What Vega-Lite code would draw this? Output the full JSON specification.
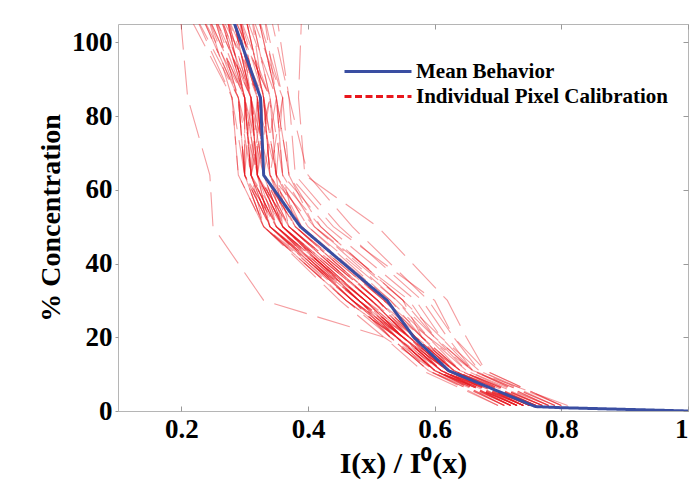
{
"$schema": "https://vega.github.io/schema/vega-lite/v6.json",
"width": 570, "height": 387,
"autosize": {"type": "none"},
"padding": {"left": 118, "top": 24, "right": 5, "bottom": 77},
"background": "white",
"config": {"view": {"stroke": "#b5b5b5", "strokeWidth": 1}, "font": "Liberation Serif"},
"datasets": {
"cal": [
{"id":1,"c":1.5,"v":0.74},{"id":1,"c":11,"v":0.61},{"id":1,"c":20,"v":0.55},{"id":1,"c":30,"v":0.49},{"id":1,"c":50,"v":0.35},{"id":1,"c":64,"v":0.31},{"id":1,"c":85,"v":0.30},{"id":1,"c":108,"v":0.26},
{"id":2,"c":1.5,"v":0.75},{"id":2,"c":11,"v":0.62},{"id":2,"c":20,"v":0.56},{"id":2,"c":30,"v":0.50},{"id":2,"c":50,"v":0.36},{"id":2,"c":64,"v":0.32},{"id":2,"c":85,"v":0.31},{"id":2,"c":108,"v":0.27},
{"id":3,"c":1.5,"v":0.73},{"id":3,"c":11,"v":0.60},{"id":3,"c":20,"v":0.54},{"id":3,"c":30,"v":0.48},{"id":3,"c":50,"v":0.34},{"id":3,"c":64,"v":0.30},{"id":3,"c":85,"v":0.29},{"id":3,"c":108,"v":0.25},
{"id":4,"c":1.5,"v":0.76},{"id":4,"c":11,"v":0.63},{"id":4,"c":20,"v":0.57},{"id":4,"c":30,"v":0.51},{"id":4,"c":50,"v":0.37},{"id":4,"c":64,"v":0.33},{"id":4,"c":85,"v":0.32},{"id":4,"c":108,"v":0.28},
{"id":5,"c":1.5,"v":0.72},{"id":5,"c":11,"v":0.59},{"id":5,"c":20,"v":0.53},{"id":5,"c":30,"v":0.47},{"id":5,"c":50,"v":0.33},{"id":5,"c":64,"v":0.30},{"id":5,"c":85,"v":0.30},{"id":5,"c":108,"v":0.24},
{"id":6,"c":1.5,"v":0.77},{"id":6,"c":11,"v":0.64},{"id":6,"c":20,"v":0.58},{"id":6,"c":30,"v":0.52},{"id":6,"c":50,"v":0.38},{"id":6,"c":64,"v":0.33},{"id":6,"c":85,"v":0.32},{"id":6,"c":108,"v":0.29},
{"id":7,"c":1.5,"v":0.71},{"id":7,"c":11,"v":0.60},{"id":7,"c":20,"v":0.54},{"id":7,"c":30,"v":0.46},{"id":7,"c":50,"v":0.34},{"id":7,"c":64,"v":0.31},{"id":7,"c":85,"v":0.29},{"id":7,"c":108,"v":0.23},
{"id":8,"c":1.5,"v":0.74},{"id":8,"c":11,"v":0.62},{"id":8,"c":20,"v":0.55},{"id":8,"c":30,"v":0.48},{"id":8,"c":50,"v":0.36},{"id":8,"c":64,"v":0.32},{"id":8,"c":85,"v":0.31},{"id":8,"c":108,"v":0.28},
{"id":9,"c":1.5,"v":0.78},{"id":9,"c":11,"v":0.65},{"id":9,"c":20,"v":0.59},{"id":9,"c":30,"v":0.53},{"id":9,"c":50,"v":0.39},{"id":9,"c":64,"v":0.34},{"id":9,"c":85,"v":0.33},{"id":9,"c":108,"v":0.30},
{"id":10,"c":1.5,"v":0.73},{"id":10,"c":11,"v":0.61},{"id":10,"c":20,"v":0.56},{"id":10,"c":30,"v":0.49},{"id":10,"c":50,"v":0.35},{"id":10,"c":64,"v":0.31},{"id":10,"c":85,"v":0.30},{"id":10,"c":108,"v":0.27},
{"id":11,"c":1.5,"v":0.75},{"id":11,"c":11,"v":0.63},{"id":11,"c":20,"v":0.57},{"id":11,"c":30,"v":0.50},{"id":11,"c":50,"v":0.37},{"id":11,"c":64,"v":0.32},{"id":11,"c":85,"v":0.32},{"id":11,"c":108,"v":0.29},
{"id":12,"c":1.5,"v":0.70},{"id":12,"c":11,"v":0.58},{"id":12,"c":20,"v":0.52},{"id":12,"c":30,"v":0.45},{"id":12,"c":50,"v":0.33},{"id":12,"c":64,"v":0.29},{"id":12,"c":85,"v":0.28},{"id":12,"c":108,"v":0.22},
{"id":13,"c":1.5,"v":0.76},{"id":13,"c":11,"v":0.62},{"id":13,"c":20,"v":0.55},{"id":13,"c":30,"v":0.47},{"id":13,"c":50,"v":0.35},{"id":13,"c":64,"v":0.32},{"id":13,"c":85,"v":0.31},{"id":13,"c":108,"v":0.26},
{"id":14,"c":1.5,"v":0.74},{"id":14,"c":11,"v":0.60},{"id":14,"c":20,"v":0.54},{"id":14,"c":30,"v":0.48},{"id":14,"c":50,"v":0.36},{"id":14,"c":64,"v":0.33},{"id":14,"c":85,"v":0.32},{"id":14,"c":108,"v":0.28},
{"id":15,"c":1.5,"v":0.72},{"id":15,"c":11,"v":0.61},{"id":15,"c":20,"v":0.55},{"id":15,"c":30,"v":0.49},{"id":15,"c":50,"v":0.34},{"id":15,"c":64,"v":0.30},{"id":15,"c":85,"v":0.30},{"id":15,"c":108,"v":0.25},
{"id":16,"c":1.5,"v":0.79},{"id":16,"c":11,"v":0.66},{"id":16,"c":20,"v":0.60},{"id":16,"c":30,"v":0.54},{"id":16,"c":50,"v":0.40},{"id":16,"c":64,"v":0.35},{"id":16,"c":85,"v":0.34},{"id":16,"c":108,"v":0.31},
{"id":17,"c":1.5,"v":0.75},{"id":17,"c":11,"v":0.61},{"id":17,"c":20,"v":0.54},{"id":17,"c":30,"v":0.47},{"id":17,"c":50,"v":0.34},{"id":17,"c":64,"v":0.31},{"id":17,"c":85,"v":0.30},{"id":17,"c":108,"v":0.27},
{"id":18,"c":1.5,"v":0.73},{"id":18,"c":11,"v":0.62},{"id":18,"c":20,"v":0.56},{"id":18,"c":30,"v":0.50},{"id":18,"c":50,"v":0.37},{"id":18,"c":64,"v":0.32},{"id":18,"c":85,"v":0.31},{"id":18,"c":108,"v":0.26},
{"id":19,"c":1.5,"v":0.77},{"id":19,"c":11,"v":0.63},{"id":19,"c":20,"v":0.56},{"id":19,"c":30,"v":0.49},{"id":19,"c":50,"v":0.36},{"id":19,"c":64,"v":0.32},{"id":19,"c":85,"v":0.31},{"id":19,"c":108,"v":0.28},
{"id":20,"c":1.5,"v":0.71},{"id":20,"c":11,"v":0.59},{"id":20,"c":20,"v":0.53},{"id":20,"c":30,"v":0.46},{"id":20,"c":50,"v":0.33},{"id":20,"c":64,"v":0.30},{"id":20,"c":85,"v":0.29},{"id":20,"c":108,"v":0.24},
{"id":21,"c":1.5,"v":0.80},{"id":21,"c":11,"v":0.67},{"id":21,"c":20,"v":0.61},{"id":21,"c":30,"v":0.55},{"id":21,"c":50,"v":0.41},{"id":21,"c":64,"v":0.36},{"id":21,"c":85,"v":0.35},{"id":21,"c":108,"v":0.32},
{"id":22,"c":1.5,"v":0.74},{"id":22,"c":11,"v":0.63},{"id":22,"c":20,"v":0.58},{"id":22,"c":30,"v":0.51},{"id":22,"c":50,"v":0.38},{"id":22,"c":64,"v":0.34},{"id":22,"c":85,"v":0.33},{"id":22,"c":108,"v":0.30},
{"id":23,"c":1.5,"v":0.72},{"id":23,"c":11,"v":0.60},{"id":23,"c":20,"v":0.53},{"id":23,"c":30,"v":0.47},{"id":23,"c":50,"v":0.35},{"id":23,"c":64,"v":0.31},{"id":23,"c":85,"v":0.30},{"id":23,"c":108,"v":0.23},
{"id":24,"c":1.5,"v":0.76},{"id":24,"c":11,"v":0.64},{"id":24,"c":20,"v":0.57},{"id":24,"c":30,"v":0.50},{"id":24,"c":50,"v":0.36},{"id":24,"c":64,"v":0.31},{"id":24,"c":85,"v":0.30},{"id":24,"c":108,"v":0.27},
{"id":25,"c":1.5,"v":0.73},{"id":25,"c":11,"v":0.61},{"id":25,"c":20,"v":0.55},{"id":25,"c":30,"v":0.48},{"id":25,"c":50,"v":0.34},{"id":25,"c":64,"v":0.30},{"id":25,"c":85,"v":0.29},{"id":25,"c":108,"v":0.25},
{"id":26,"c":1.5,"v":0.75},{"id":26,"c":11,"v":0.62},{"id":26,"c":20,"v":0.56},{"id":26,"c":30,"v":0.51},{"id":26,"c":50,"v":0.38},{"id":26,"c":64,"v":0.33},{"id":26,"c":85,"v":0.31},{"id":26,"c":108,"v":0.28},
{"id":27,"c":1.5,"v":0.81},{"id":27,"c":11,"v":0.66},{"id":27,"c":20,"v":0.59},{"id":27,"c":30,"v":0.52},{"id":27,"c":50,"v":0.39},{"id":27,"c":64,"v":0.35},{"id":27,"c":85,"v":0.34},{"id":27,"c":108,"v":0.31},
{"id":28,"c":1.5,"v":0.74},{"id":28,"c":11,"v":0.61},{"id":28,"c":20,"v":0.55},{"id":28,"c":30,"v":0.49},{"id":28,"c":50,"v":0.35},{"id":28,"c":64,"v":0.32},{"id":28,"c":85,"v":0.31},{"id":28,"c":108,"v":0.29},
{"id":29,"c":1.5,"v":0.70},{"id":29,"c":11,"v":0.59},{"id":29,"c":20,"v":0.54},{"id":29,"c":30,"v":0.48},{"id":29,"c":50,"v":0.36},{"id":29,"c":64,"v":0.32},{"id":29,"c":85,"v":0.30},{"id":29,"c":108,"v":0.26},
{"id":30,"c":1.5,"v":0.77},{"id":30,"c":11,"v":0.64},{"id":30,"c":20,"v":0.58},{"id":30,"c":30,"v":0.53},{"id":30,"c":50,"v":0.40},{"id":30,"c":64,"v":0.35},{"id":30,"c":85,"v":0.33},{"id":30,"c":108,"v":0.30},
{"id":31,"c":1.5,"v":0.73},{"id":31,"c":11,"v":0.60},{"id":31,"c":20,"v":0.54},{"id":31,"c":30,"v":0.47},{"id":31,"c":50,"v":0.34},{"id":31,"c":64,"v":0.31},{"id":31,"c":85,"v":0.31},{"id":31,"c":108,"v":0.27},
{"id":32,"c":1.5,"v":0.76},{"id":32,"c":11,"v":0.63},{"id":32,"c":20,"v":0.57},{"id":32,"c":30,"v":0.51},{"id":32,"c":50,"v":0.37},{"id":32,"c":64,"v":0.33},{"id":32,"c":85,"v":0.32},{"id":32,"c":108,"v":0.29},
{"id":33,"c":1.5,"v":0.78},{"id":33,"c":11,"v":0.64},{"id":33,"c":20,"v":0.58},{"id":33,"c":30,"v":0.55},{"id":33,"c":50,"v":0.42},{"id":33,"c":64,"v":0.37},{"id":33,"c":85,"v":0.35},{"id":33,"c":108,"v":0.33},
{"id":34,"c":1.5,"v":0.79},{"id":34,"c":11,"v":0.66},{"id":34,"c":20,"v":0.62},{"id":34,"c":30,"v":0.58},{"id":34,"c":50,"v":0.45},{"id":34,"c":64,"v":0.38},{"id":34,"c":85,"v":0.37},{"id":34,"c":108,"v":0.34},
{"id":35,"c":1.5,"v":0.80},{"id":35,"c":11,"v":0.68},{"id":35,"c":20,"v":0.63},{"id":35,"c":30,"v":0.59},{"id":35,"c":50,"v":0.47},{"id":35,"c":64,"v":0.40},{"id":35,"c":85,"v":0.37},{"id":35,"c":108,"v":0.35},
{"id":36,"c":1.5,"v":0.72},{"id":36,"c":11,"v":0.60},{"id":36,"c":20,"v":0.54},{"id":36,"c":30,"v":0.49},{"id":36,"c":50,"v":0.35},{"id":36,"c":64,"v":0.30},{"id":36,"c":85,"v":0.28},{"id":36,"c":108,"v":0.21},
{"id":37,"c":1.5,"v":0.74},{"id":37,"c":11,"v":0.62},{"id":37,"c":20,"v":0.56},{"id":37,"c":30,"v":0.48},{"id":37,"c":50,"v":0.33},{"id":37,"c":64,"v":0.29},{"id":37,"c":85,"v":0.28},{"id":37,"c":108,"v":0.24},
{"id":38,"c":1.5,"v":0.75},{"id":38,"c":11,"v":0.63},{"id":38,"c":20,"v":0.57},{"id":38,"c":30,"v":0.52},{"id":38,"c":50,"v":0.39},{"id":38,"c":64,"v":0.34},{"id":38,"c":85,"v":0.33},{"id":38,"c":108,"v":0.31},
{"id":39,"c":1.5,"v":0.72},{"id":39,"c":11,"v":0.60},{"id":39,"c":20,"v":0.52},{"id":39,"c":30,"v":0.33},{"id":39,"c":50,"v":0.25},{"id":39,"c":64,"v":0.245},{"id":39,"c":85,"v":0.21},{"id":39,"c":108,"v":0.198},
{"id":40,"c":1.5,"v":0.80},{"id":40,"c":11,"v":0.68},{"id":40,"c":20,"v":0.65},{"id":40,"c":30,"v":0.62},{"id":40,"c":50,"v":0.51},{"id":40,"c":64,"v":0.395},{"id":40,"c":85,"v":0.385},{"id":40,"c":108,"v":0.39},
{"id":41,"c":1.5,"v":0.79},{"id":41,"c":11,"v":0.67},{"id":41,"c":20,"v":0.63},{"id":41,"c":30,"v":0.60},{"id":41,"c":50,"v":0.44},{"id":41,"c":64,"v":0.37},{"id":41,"c":85,"v":0.36},{"id":41,"c":108,"v":0.32},
{"id":42,"c":1.5,"v":0.78},{"id":42,"c":11,"v":0.66},{"id":42,"c":20,"v":0.61},{"id":42,"c":30,"v":0.57},{"id":42,"c":50,"v":0.43},{"id":42,"c":64,"v":0.36},{"id":42,"c":85,"v":0.35},{"id":42,"c":108,"v":0.32},
{"id":43,"c":1.5,"v":0.77},{"id":43,"c":11,"v":0.65},{"id":43,"c":20,"v":0.60},{"id":43,"c":30,"v":0.56},{"id":43,"c":50,"v":0.41},{"id":43,"c":64,"v":0.34},{"id":43,"c":85,"v":0.33},{"id":43,"c":108,"v":0.29},
{"id":44,"c":1.5,"v":0.73},{"id":44,"c":11,"v":0.62},{"id":44,"c":20,"v":0.55},{"id":44,"c":30,"v":0.47},{"id":44,"c":50,"v":0.34},{"id":44,"c":64,"v":0.32},{"id":44,"c":85,"v":0.33},{"id":44,"c":108,"v":0.27},
{"id":45,"c":1.5,"v":0.75},{"id":45,"c":11,"v":0.61},{"id":45,"c":20,"v":0.55},{"id":45,"c":30,"v":0.49},{"id":45,"c":50,"v":0.36},{"id":45,"c":64,"v":0.34},{"id":45,"c":85,"v":0.31},{"id":45,"c":108,"v":0.25},
{"id":46,"c":1.5,"v":0.74},{"id":46,"c":11,"v":0.63},{"id":46,"c":20,"v":0.56},{"id":46,"c":30,"v":0.48},{"id":46,"c":50,"v":0.35},{"id":46,"c":64,"v":0.31},{"id":46,"c":85,"v":0.34},{"id":46,"c":108,"v":0.29},
{"id":47,"c":1.5,"v":0.76},{"id":47,"c":11,"v":0.62},{"id":47,"c":20,"v":0.56},{"id":47,"c":30,"v":0.50},{"id":47,"c":50,"v":0.37},{"id":47,"c":64,"v":0.35},{"id":47,"c":85,"v":0.33},{"id":47,"c":108,"v":0.26},
{"id":48,"c":1.5,"v":0.72},{"id":48,"c":11,"v":0.61},{"id":48,"c":20,"v":0.54},{"id":48,"c":30,"v":0.46},{"id":48,"c":50,"v":0.33},{"id":48,"c":64,"v":0.31},{"id":48,"c":85,"v":0.32},{"id":48,"c":108,"v":0.28},
{"id":49,"c":1.5,"v":0.75},{"id":49,"c":11,"v":0.63},{"id":49,"c":20,"v":0.57},{"id":49,"c":30,"v":0.49},{"id":49,"c":50,"v":0.36},{"id":49,"c":64,"v":0.33},{"id":49,"c":85,"v":0.35},{"id":49,"c":108,"v":0.30},
{"id":50,"c":1.5,"v":0.73},{"id":50,"c":11,"v":0.60},{"id":50,"c":20,"v":0.55},{"id":50,"c":30,"v":0.48},{"id":50,"c":50,"v":0.35},{"id":50,"c":64,"v":0.30},{"id":50,"c":85,"v":0.31},{"id":50,"c":108,"v":0.28},
{"id":51,"c":1.5,"v":0.77},{"id":51,"c":11,"v":0.64},{"id":51,"c":20,"v":0.57},{"id":51,"c":30,"v":0.51},{"id":51,"c":50,"v":0.38},{"id":51,"c":64,"v":0.36},{"id":51,"c":85,"v":0.34},{"id":51,"c":108,"v":0.28},
{"id":52,"c":1.5,"v":0.71},{"id":52,"c":11,"v":0.60},{"id":52,"c":20,"v":0.54},{"id":52,"c":30,"v":0.47},{"id":52,"c":50,"v":0.34},{"id":52,"c":64,"v":0.32},{"id":52,"c":85,"v":0.29},{"id":52,"c":108,"v":0.22},
{"id":53,"c":1.5,"v":0.74},{"id":53,"c":11,"v":0.62},{"id":53,"c":20,"v":0.56},{"id":53,"c":30,"v":0.50},{"id":53,"c":50,"v":0.37},{"id":53,"c":64,"v":0.34},{"id":53,"c":85,"v":0.36},{"id":53,"c":108,"v":0.31},
{"id":54,"c":1.5,"v":0.76},{"id":54,"c":11,"v":0.63},{"id":54,"c":20,"v":0.58},{"id":54,"c":30,"v":0.52},{"id":54,"c":50,"v":0.38},{"id":54,"c":64,"v":0.33},{"id":54,"c":85,"v":0.30},{"id":54,"c":108,"v":0.24},
{"id":55,"c":1.5,"v":0.72},{"id":55,"c":11,"v":0.61},{"id":55,"c":20,"v":0.55},{"id":55,"c":30,"v":0.49},{"id":55,"c":50,"v":0.36},{"id":55,"c":64,"v":0.35},{"id":55,"c":85,"v":0.32},{"id":55,"c":108,"v":0.27},
{"id":56,"c":1.5,"v":0.75},{"id":56,"c":11,"v":0.62},{"id":56,"c":20,"v":0.55},{"id":56,"c":30,"v":0.48},{"id":56,"c":50,"v":0.34},{"id":56,"c":64,"v":0.31},{"id":56,"c":85,"v":0.33},{"id":56,"c":108,"v":0.30},
{"id":57,"c":1.5,"v":0.78},{"id":57,"c":11,"v":0.66},{"id":57,"c":20,"v":0.60},{"id":57,"c":30,"v":0.55},{"id":57,"c":50,"v":0.42},{"id":57,"c":64,"v":0.35},{"id":57,"c":85,"v":0.36},{"id":57,"c":108,"v":0.33},
{"id":58,"c":1.5,"v":0.73},{"id":58,"c":11,"v":0.61},{"id":58,"c":20,"v":0.56},{"id":58,"c":30,"v":0.50},{"id":58,"c":50,"v":0.36},{"id":58,"c":64,"v":0.32},{"id":58,"c":85,"v":0.30},{"id":58,"c":108,"v":0.26},
{"id":59,"c":1.5,"v":0.74},{"id":59,"c":11,"v":0.61},{"id":59,"c":20,"v":0.55},{"id":59,"c":30,"v":0.47},{"id":59,"c":50,"v":0.35},{"id":59,"c":64,"v":0.33},{"id":59,"c":85,"v":0.32},{"id":59,"c":108,"v":0.29},
{"id":60,"c":1.5,"v":0.76},{"id":60,"c":11,"v":0.64},{"id":60,"c":20,"v":0.59},{"id":60,"c":30,"v":0.54},{"id":60,"c":50,"v":0.41},{"id":60,"c":64,"v":0.37},{"id":60,"c":85,"v":0.35},{"id":60,"c":108,"v":0.32},
{"id":61,"c":1.5,"v":0.71},{"id":61,"c":11,"v":0.59},{"id":61,"c":20,"v":0.53},{"id":61,"c":30,"v":0.48},{"id":61,"c":50,"v":0.36},{"id":61,"c":64,"v":0.33},{"id":61,"c":85,"v":0.31},{"id":61,"c":108,"v":0.25},
{"id":62,"c":1.5,"v":0.75},{"id":62,"c":11,"v":0.62},{"id":62,"c":20,"v":0.57},{"id":62,"c":30,"v":0.51},{"id":62,"c":50,"v":0.37},{"id":62,"c":64,"v":0.32},{"id":62,"c":85,"v":0.34},{"id":62,"c":108,"v":0.28},
{"id":63,"c":1.5,"v":0.73},{"id":63,"c":11,"v":0.60},{"id":63,"c":20,"v":0.54},{"id":63,"c":30,"v":0.46},{"id":63,"c":50,"v":0.33},{"id":63,"c":64,"v":0.30},{"id":63,"c":85,"v":0.29},{"id":63,"c":108,"v":0.23}
],
"mean": [
{"c":0,"v":1.0},{"c":0.9,"v":0.8},{"c":1.2,"v":0.759},{"c":10.9,"v":0.6225},{"c":20,"v":0.567},{"c":30,"v":0.525},{"c":50,"v":0.388},{"c":64,"v":0.330},{"c":85,"v":0.325},{"c":108,"v":0.278}
]
},
"layer": [
{
"data": {"name": "cal"},
"mark": {"type": "line", "strokeWidth": 1.1, "opacity": 0.42, "strokeDash": [34, 11], "clip": true},
"encoding": {
"x": {"field": "v", "type": "quantitative", "scale": {"domain": [0.1, 1], "nice": false, "zero": false},
 "axis": {"orient": "bottom", "values": [0.2, 0.4, 0.6, 0.8, 1], "labelExpr": "datum.value == 1 ? '1' : format(datum.value, '.1f')", "grid": false, "domain": false, "tickSize": -5, "tickColor": "#999999", "labelFont": "Liberation Serif", "labelFontWeight": "bold", "labelFontSize": 27, "labelColor": "black", "labelPadding": 10, "title": "I(x) / I⁰(x)", "titleFont": "Liberation Serif", "titleFontWeight": "bold", "titleFontSize": 30, "titleColor": "black", "titlePadding": 6}},
"y": {"field": "c", "type": "quantitative", "scale": {"domain": [0, 105], "nice": false, "zero": false},
 "axis": {"orient": "left", "values": [0, 20, 40, 60, 80, 100], "grid": false, "domain": false, "tickSize": 3, "tickColor": "#999999", "labelFont": "Liberation Serif", "labelFontWeight": "bold", "labelFontSize": 27, "labelColor": "black", "labelPadding": 3, "title": "% Concentration", "titleFont": "Liberation Serif", "titleFontWeight": "bold", "titleFontSize": 28, "titleColor": "black", "titlePadding": 6}},
"detail": {"field": "id", "type": "nominal"},
"order": {"field": "c", "type": "quantitative"},
"color": {"datum": "Individual Pixel Calibration", "type": "nominal",
 "scale": {"domain": ["Mean Behavior", "Individual Pixel Calibration"], "range": ["#3a4ea2", "#e8161c"]},
 "legend": {"title": null, "orient": "none", "legendX": 225, "legendY": 36, "symbolType": "M-1,0H5.7", "symbolSize": 400, "symbolStrokeWidth": 3, "symbolOpacity": 1, "labelFont": "Liberation Serif", "labelFontWeight": "bold", "labelFontSize": 21, "labelColor": "black", "labelOffset": 50, "labelLimit": 500, "rowPadding": 3}}
}
},
{
"data": {"name": "mean"},
"mark": {"type": "line", "strokeWidth": 3, "clip": true},
"encoding": {
"x": {"field": "v", "type": "quantitative", "axis": {"orient": "top", "values": [0.2, 0.4, 0.6, 0.8, 1], "labels": false, "grid": false, "domain": false, "tickSize": -5, "tickColor": "#999999", "title": null}},
"y": {"field": "c", "type": "quantitative", "axis": {"orient": "right", "values": [0, 20, 40, 60, 80, 100], "labels": false, "grid": false, "domain": false, "tickSize": -5, "tickColor": "#999999", "title": null}},
"order": {"field": "c", "type": "quantitative"},
"color": {"datum": "Mean Behavior", "type": "nominal"},
"strokeDash": {"datum": "Mean Behavior", "type": "nominal", "scale": {"domain": ["Mean Behavior", "Individual Pixel Calibration"], "range": [[1, 0], [7, 3.5]]}, "legend": {"title": null}}
}
}
],
"resolve": {"axis": {"x": "independent", "y": "independent"}}
}
